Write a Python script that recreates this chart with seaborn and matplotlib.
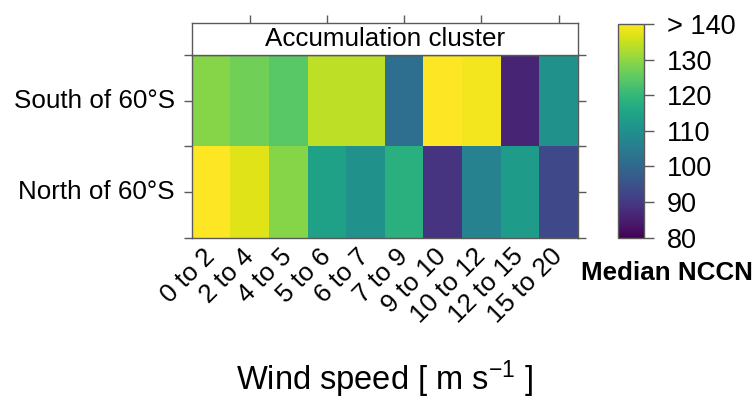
import numpy as np
import pandas as pd
import matplotlib
matplotlib.use("Agg")
import matplotlib.pyplot as plt
import seaborn as sns

# Median NCCN by wind speed bin, split by latitude band
wind_bins = ["0 to 2", "2 to 4", "4 to 5", "5 to 6", "6 to 7",
             "7 to 9", "9 to 10", "10 to 12", "12 to 15", "15 to 20"]
regions = ["South of 60°S", "North of 60°S"]
south_of_60 = [129, 127, 124.5, 134, 134, 101.5, 142, 139, 86, 110]
north_of_60 = [142, 137, 129, 114, 110, 118, 89, 106.5, 113, 93]
cbar_ticks = [80, 90, 100, 110, 120, 130, 140]
cbar_labels = ["80", "90", "100", "110", "120", "130", "> 140"]
panel_title = "Accumulation cluster"

sns.set_style("white")
plt.rcParams["font.family"] = ["Liberation Sans", "DejaVu Sans"]
plt.rcParams["mathtext.default"] = "regular"
plt.rcParams["text.color"] = "black"
plt.rcParams["axes.labelcolor"] = "black"
plt.rcParams["xtick.labelcolor"] = "black"
plt.rcParams["ytick.labelcolor"] = "black"

frame_col = "#5a5a5a"
fs = 18.7
tick_len = 6.0

data = pd.DataFrame([south_of_60, north_of_60], index=regions, columns=wind_bins)

W, H = 754, 400
fig = plt.figure(figsize=(W / 100, H / 100), dpi=100)

px_l, px_r, px_top, px_bot = 191.7, 578.0, 55.0, 237.7
strip_top = 23.3
ax = fig.add_axes([px_l / W, 1 - px_bot / H, (px_r - px_l) / W, (px_bot - px_top) / H])
strip = fig.add_axes([px_l / W, 1 - px_top / H, (px_r - px_l) / W, (px_top - strip_top) / H])
cax = fig.add_axes([618.3 / W, 1 - px_bot / H, 26.0 / W, (px_bot - 24.0) / H])

sns.heatmap(data, ax=ax, cmap="viridis", vmin=80, vmax=140, cbar_ax=cax,
            cbar_kws={"ticks": cbar_ticks}, linewidths=0)

# panel frame
for sp in ax.spines.values():
    sp.set_visible(True)
    sp.set_color(frame_col)
    sp.set_linewidth(1.0)

ncol = len(wind_bins)
centers = np.arange(ncol) + 0.5
ax.set_xticks(centers)
ax.set_xticklabels(wind_bins)
ax.set_xticks(centers[1::2], minor=True)
ax.tick_params(axis="x", which="major", length=0, pad=11, labelsize=fs, labelcolor="black")
ax.tick_params(axis="x", which="minor", length=tick_len, width=1, color=frame_col,
               bottom=True, top=False)
for lab in ax.get_xticklabels():
    lab.set_rotation(45)
    lab.set_ha("right")
    lab.set_va("center")
    lab.set_rotation_mode("anchor")

ax.set_yticks([0.5, 1.5])
ax.set_yticklabels(regions, rotation=0)
ax.set_yticks([0, 1, 2], minor=True)
ax.tick_params(axis="y", which="both", length=tick_len, width=1, color=frame_col,
               left=True, right=True, labelright=False, labelsize=fs, pad=6,
               labelcolor="black")
ax.set_xlabel("")
ax.set_ylabel("")

# strip with panel title
strip.set_xlim(0, ncol)
strip.set_ylim(0, 1)
strip.set_facecolor("white")
for sp in strip.spines.values():
    sp.set_visible(True)
    sp.set_color(frame_col)
    sp.set_linewidth(1.0)
strip.set_xticks(centers[1::2])
strip.set_yticks([])
strip.tick_params(axis="x", length=tick_len, width=1, color=frame_col,
                  top=True, bottom=False, labeltop=False, labelbottom=False)
strip.text(ncol / 2, 0.5, panel_title, ha="center", va="center", fontsize=fs,
           color="black")

# colorbar
cbar = ax.collections[0].colorbar
cbar.outline.set_edgecolor(frame_col)
cbar.outline.set_linewidth(1.0)
cbar.set_ticks(cbar_ticks)
cbar.set_ticklabels(cbar_labels)
cax.tick_params(length=7, width=1, color=frame_col, labelsize=19.5, pad=9,
                labelcolor="black")

fig.text(667 / W, 1 - 273 / H, "Median NCCN", ha="center", va="center",
         fontsize=fs, fontweight="bold", color="black")
fig.text(385 / W, 1 - 379 / H, "Wind speed [ m s$^{-1}$ ]", ha="center", va="center",
         fontsize=23.5, color="black")

fig.savefig("out.png", dpi=100)
